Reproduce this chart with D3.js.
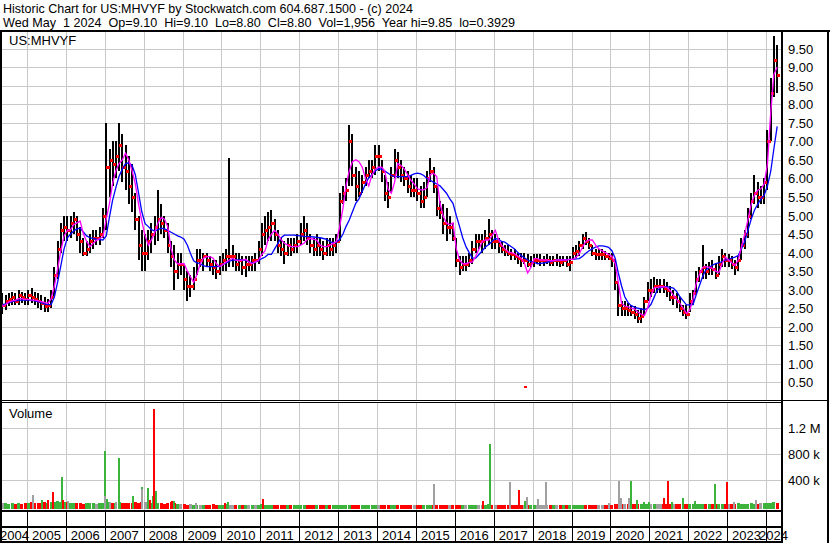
<!DOCTYPE html>
<html><head><meta charset="utf-8">
<script src="https://cdn.jsdelivr.net/npm/d3@7"></script>
<style>
body{margin:0;background:#fff;}
svg text{font-family:"Liberation Sans",Arial,sans-serif;fill:#000;}
</style>
</head><body>
<svg id="c" width="830" height="543"></svg>
<script>
// ---------- DATA (monthly, May 2004 .. Apr 2024) ----------
const startYear = 2004, startMonth = 4; // May 2004 (0-based month)
const lows = [
 2.35,2.45,2.55,2.6,2.6,2.6,2.65,2.6,
 2.6,2.65,2.6,2.5,2.45,2.4,2.4,2.5,2.8,3.3,4.0,4.3,
 4.3,4.4,4.5,4.3,4.0,3.9,3.9,4.0,4.1,4.2,4.2,4.4,
 4.6,5.5,5.8,6.0,6.2,5.9,5.7,5.3,5.1,4.6,3.8,3.5,
 3.5,3.8,4.0,4.2,4.3,4.5,4.4,4.0,3.6,3.0,3.3,3.4,
 3.0,2.7,2.8,3.0,3.4,3.6,3.5,3.6,3.5,3.4,3.3,3.4,
 3.5,3.5,3.6,3.6,3.5,3.5,3.4,3.35,3.5,3.5,3.5,3.7,
 3.9,4.2,4.3,4.3,4.3,4.0,3.9,3.7,3.9,3.9,4.0,4.0,
 4.2,4.3,4.2,4.0,3.9,3.9,3.9,3.8,3.9,3.9,3.9,4.0,
 4.3,5.3,5.4,5.8,5.8,5.4,5.5,5.6,5.8,6.0,6.0,6.1,
 6.2,5.9,5.4,5.2,5.6,6.0,6.0,5.9,5.8,5.6,5.5,5.5,
 5.4,5.2,5.2,5.5,5.9,5.6,5.0,4.9,4.5,4.3,4.5,4.3,
 3.6,3.4,3.5,3.5,3.6,3.7,4.0,4.1,4.0,4.1,4.2,4.1,
 4.1,4.0,4.0,3.9,3.9,3.8,3.8,3.7,3.6,3.7,3.6,3.6,
 3.6,3.7,3.65,3.65,3.7,3.65,3.65,3.65,3.6,3.65,3.6,3.5,
 3.8,3.85,3.9,4.1,4.2,4.1,3.9,3.8,3.8,3.8,3.8,3.8,
 3.6,3.0,2.3,2.3,2.3,2.3,2.3,2.2,2.1,2.1,2.3,2.7,
 2.8,2.9,2.9,2.9,2.9,2.8,2.7,2.6,2.5,2.4,2.3,2.2,
 2.4,2.6,2.9,3.2,3.3,3.3,3.4,3.4,3.3,3.4,3.6,3.6,
 3.6,3.55,3.4,3.5,3.8,4.1,4.4,4.9,5.3,5.2,5.3,5.3,
 5.7,7.0,8.2,8.3
];
const highs = [
 2.9,2.85,2.9,2.95,2.9,3.0,2.95,2.9,
 3.0,3.05,2.95,2.9,2.85,2.8,2.75,3.0,3.6,4.3,4.8,5.0,
 5.0,5.0,5.1,5.0,4.7,4.4,4.3,4.5,4.6,4.6,4.7,5.2,
 7.5,6.8,7.0,7.0,7.5,7.2,6.9,6.6,6.4,5.6,5.0,4.6,
 4.5,4.6,4.8,5.0,5.7,5.3,5.0,4.8,4.3,4.2,4.0,4.0,
 3.7,3.5,3.4,3.6,4.1,4.1,4.0,4.0,3.9,3.8,3.8,3.9,
 4.0,4.1,6.55,4.2,4.0,4.0,3.9,3.9,3.9,3.9,4.0,4.3,
 4.8,5.0,5.1,5.15,4.9,4.6,4.4,4.3,4.4,4.4,4.4,4.5,
 4.8,5.0,4.8,4.5,4.4,4.5,4.4,4.3,4.4,4.4,4.4,4.5,
 5.6,5.8,6.0,7.45,7.2,6.3,6.2,6.1,6.3,6.5,6.5,6.9,
 6.9,6.5,6.1,5.9,6.3,6.8,6.7,6.5,6.3,6.2,6.1,6.0,
 6.0,5.8,5.9,6.2,6.55,6.3,5.8,5.4,5.3,5.2,5.0,4.8,
 4.4,3.9,3.9,3.9,4.0,4.3,4.5,4.5,4.5,4.6,4.9,4.6,
 4.5,4.4,4.3,4.2,4.2,4.1,4.1,4.0,4.0,4.0,3.95,3.9,
 3.95,3.95,3.95,3.9,3.95,3.9,3.9,3.95,3.9,3.9,3.9,3.9,
 4.15,4.2,4.3,4.5,4.55,4.4,4.2,4.1,4.1,4.1,4.05,4.0,
 4.0,3.8,3.2,2.7,2.7,2.65,2.6,2.55,2.45,2.5,2.8,3.2,
 3.3,3.35,3.3,3.3,3.3,3.2,3.1,3.0,2.9,2.8,2.6,2.6,
 2.9,3.0,3.5,3.6,4.2,3.7,3.75,3.8,3.7,3.9,4.1,4.0,
 3.95,3.9,3.8,3.9,4.4,4.6,5.2,5.6,6.1,5.9,5.8,6.0,
 7.3,8.7,9.85,9.6
];
const closes = [
 2.6,2.7,2.75,2.8,2.7,2.85,2.8,2.75,
 2.85,2.8,2.75,2.7,2.65,2.55,2.6,2.8,3.4,4.1,4.6,4.7,
 4.6,4.8,4.9,4.5,4.3,4.0,4.1,4.3,4.4,4.4,4.5,5.0,
 6.3,6.5,6.4,6.6,6.9,6.3,6.2,5.8,5.5,4.9,4.2,4.0,
 4.0,4.3,4.5,4.7,4.9,4.8,4.6,4.2,3.9,3.5,3.7,3.7,
 3.3,3.1,3.1,3.3,3.8,3.8,3.9,3.8,3.7,3.6,3.5,3.7,
 3.8,3.9,3.9,3.9,3.7,3.8,3.6,3.7,3.7,3.8,3.8,4.1,
 4.5,4.6,4.7,4.8,4.5,4.2,4.1,4.0,4.2,4.1,4.2,4.3,
 4.5,4.6,4.4,4.2,4.1,4.2,4.1,4.0,4.2,4.1,4.2,4.3,
 5.4,5.6,5.7,7.0,6.1,5.8,5.6,5.9,6.1,6.2,6.3,6.6,
 6.6,6.2,5.6,5.5,6.1,6.5,6.3,6.1,6.0,5.8,5.7,5.7,
 5.6,5.4,5.5,6.0,6.2,5.8,5.2,5.1,4.8,4.7,4.7,4.4,
 3.8,3.6,3.7,3.7,3.8,4.1,4.3,4.3,4.3,4.4,4.5,4.3,
 4.3,4.2,4.1,4.05,4.0,3.95,3.9,3.85,3.8,3.8,3.7,3.75,
 3.8,3.8,3.8,3.8,3.8,3.75,3.8,3.8,3.75,3.8,3.7,3.75,
 4.0,4.05,4.2,4.4,4.3,4.2,4.0,3.95,3.95,3.95,3.9,3.85,
 3.8,3.2,2.6,2.5,2.5,2.45,2.4,2.35,2.25,2.3,2.7,3.0,
 3.0,3.1,3.1,3.1,3.05,3.0,2.8,2.8,2.7,2.5,2.4,2.35,
 2.7,2.9,3.3,3.5,3.6,3.5,3.6,3.55,3.4,3.7,3.9,3.8,
 3.8,3.7,3.6,3.8,4.2,4.5,5.0,5.4,5.6,5.5,5.5,5.9,
 7.0,8.3,9.2,8.8
];
const maShort = [
 2.55,2.6,2.67,2.7,2.72,2.76,2.76,2.74,
 2.74,2.72,2.72,2.7,2.68,2.66,2.63,2.75,3.1,3.55,4.05,4.45,
 4.6,4.62,4.75,4.8,4.85,4.5,4.3,4.16,4.25,4.33,4.38,4.43,
 4.9,5.33,5.85,6.2,6.4,6.5,6.68,6.5,6.2,5.85,5.3,4.85,
 4.45,4.2,4.35,4.55,4.8,4.95,4.9,4.7,4.1,3.8,3.7,3.7,
 3.7,3.5,3.35,3.2,3.4,3.7,3.85,3.89,3.89,3.85,3.7,3.62,
 3.68,3.75,3.8,3.85,3.8,3.78,3.8,3.82,3.75,3.7,3.75,3.8,
 3.95,4.05,4.35,4.5,4.6,4.5,4.35,4.25,4.2,4.16,4.16,4.16,
 4.2,4.25,4.35,4.38,4.36,4.33,4.2,4.16,4.16,4.2,4.25,4.3,
 4.7,5.2,5.8,6.2,6.45,6.5,6.45,6.3,6.0,5.8,6.1,6.25,
 6.3,6.3,6.2,5.7,5.6,5.9,6.4,6.35,6.25,6.1,5.95,5.85,
 5.72,5.69,5.69,5.75,6.1,6.14,6.05,5.33,4.97,4.8,4.75,4.8,
 4.1,3.8,3.7,3.7,3.73,3.75,3.9,4.1,4.3,4.34,4.34,4.45,
 4.6,4.35,4.2,4.1,4.02,4.0,3.97,3.9,3.85,3.72,3.45,3.6,
 3.84,3.84,3.8,3.8,3.8,3.78,3.78,3.8,3.8,3.8,3.8,3.82,
 3.82,3.88,3.97,4.15,4.3,4.34,4.34,4.2,4.1,4.05,4.0,3.95,
 3.9,3.7,3.2,2.63,2.56,2.54,2.5,2.48,2.4,2.34,2.3,2.5,
 2.85,3.05,3.06,3.08,3.08,3.06,2.98,2.85,2.74,2.63,2.5,2.36,
 2.45,2.75,3.15,3.4,3.6,3.62,3.6,3.58,3.5,3.46,3.7,3.88,
 3.8,3.72,3.65,3.8,4.15,4.5,4.88,5.3,5.55,5.68,5.72,5.85,
 6.4,7.8,8.8,9.0
];
const maLong = [
 2.6,2.62,2.65,2.68,2.7,2.72,2.72,2.72,
 2.72,2.72,2.7,2.68,2.65,2.62,2.6,2.6,2.8,3.2,3.65,4.1,
 4.4,4.5,4.58,4.64,4.66,4.55,4.45,4.4,4.38,4.36,4.35,4.34,
 4.45,4.97,5.4,5.75,6.05,6.25,6.4,6.42,6.35,6.1,5.6,5.1,
 4.78,4.7,4.62,4.58,4.62,4.66,4.64,4.6,4.55,4.5,4.45,4.42,
 4.36,4.2,3.98,3.78,3.72,3.7,3.65,3.62,3.62,3.62,3.62,3.63,
 3.68,3.72,3.76,3.8,3.8,3.8,3.8,3.8,3.75,3.72,3.74,3.78,
 3.84,3.88,3.95,3.95,4.1,4.25,4.4,4.47,4.47,4.47,4.47,4.46,
 4.45,4.44,4.43,4.43,4.42,4.41,4.4,4.38,4.36,4.3,4.26,4.28,
 4.35,4.5,4.7,4.88,5.1,5.33,5.45,5.65,5.85,6.02,6.1,6.2,
 6.26,6.25,6.2,6.14,6.08,6.05,6.05,6.05,6.05,6.05,6.08,6.12,
 6.14,6.12,6.08,6.0,5.95,5.9,5.85,5.8,5.7,5.6,5.45,5.33,
 5.0,4.7,4.4,4.16,4.0,3.85,3.85,3.95,4.05,4.15,4.22,4.3,
 4.38,4.36,4.3,4.28,4.22,4.16,4.1,4.0,3.92,3.86,3.8,3.76,
 3.74,3.7,3.71,3.72,3.74,3.76,3.78,3.8,3.8,3.8,3.81,3.82,
 3.82,3.83,3.84,3.9,3.98,4.05,4.1,4.15,4.18,4.18,4.17,4.14,
 4.05,3.85,3.45,3.1,2.81,2.65,2.57,2.53,2.5,2.48,2.46,2.5,
 2.6,2.8,2.99,3.05,3.08,3.08,3.06,3.04,2.95,2.81,2.7,2.59,
 2.59,2.6,2.85,3.1,3.35,3.53,3.6,3.66,3.7,3.72,3.76,3.8,
 3.82,3.85,3.88,3.92,4.1,4.3,4.6,4.9,5.15,5.3,5.45,5.55,
 5.8,6.2,6.8,7.4
];
// isolated bad prints (single days)
const outlierDates = ["2017-10-12"];
const outlierPrices = [0.39];
// typical (base) volume per month, thousands of shares
const baseVolK = [
 40,50,35,45,30,40,35,50,
 45,60,40,50,45,55,40,60,55,70,60,65,
 55,50,45,40,45,35,40,45,40,35,50,45,
 60,55,45,50,60,45,40,50,45,55,50,60,
 55,60,50,70,45,40,35,45,60,50,30,25,
 25,20,25,20,18,20,15,18,20,25,20,18,
 20,25,18,20,15,18,15,18,20,15,18,20,
 25,20,18,15,18,15,12,15,18,15,12,15,
 15,12,15,18,12,15,12,15,12,15,18,12,
 15,18,20,18,15,12,15,18,15,12,15,18,
 18,15,20,18,15,12,18,15,20,18,15,12,
 15,18,15,12,15,18,15,12,15,18,15,18,
 20,18,15,18,20,18,15,20,18,15,25,20,
 20,18,15,18,20,15,18,20,18,15,18,20,
 18,15,18,15,12,15,18,15,12,15,18,15,
 12,15,12,15,18,15,12,15,18,12,15,20,
 20,25,35,30,25,30,35,25,30,35,30,25,
 30,35,25,30,35,30,25,30,25,30,35,30,
 25,30,35,30,25,30,35,25,30,35,30,25,
 30,35,30,40,35,30,35,40,35,30,40,45,
 50,45,55,50
];
// single heavy-volume days
const spikeDates = ["2005-02-25","2005-05-22","2005-07-16","2005-09-02","2005-11-25","2005-12-06","2006-01-19",
 "2007-01-02","2007-01-02","2007-01-24","2007-02-18","2007-04-15","2007-05-14","2007-09-22","2007-12-15","2007-12-15",
 "2008-02-10","2008-03-01","2008-03-28","2008-04-07","2008-04-26","2008-09-24","2008-10-12","2009-05-07",
 "2010-02-03","2010-03-03","2011-01-25","2015-06-18","2016-09-20","2016-11-24","2017-06-01","2017-08-25",
 "2017-10-20","2017-11-08","2018-02-20","2018-05-05","2019-12-17","2020-03-20","2020-04-08","2020-06-23",
 "2020-07-12","2020-09-06","2020-11-10","2020-12-27","2021-05-17","2021-06-24","2021-07-31","2021-11-12",
 "2022-03-04","2022-09-08","2022-12-30","2023-03-05","2023-09-27","2024-03-07"];
const spikeVolK = [170,90,90,215,445,100,80,
 845,150,110,60,60,740,150,285,260,
 275,90,160,1500,230,80,70,50,
 50,60,110,340,70,950,370,245,
 80,140,110,370,40,385,120,120,
 385,90,60,60,120,385,60,120,
 80,340,370,60,90,60];
const spikeKind = ["n","g","r","r","g","r","n",
 "g","n","g","n","n","g","g","g","n",
 "g","r","g","r","g","r","g","n",
 "r","g","r","n","r","g","n","r",
 "g","n","n","n","n","n","n","n",
 "g","g","g","g","r","r","g","g",
 "g","g","r","n","n","g"];
const yearLabels = ["2004","2005","2006","2007","2008","2009","2010","2011","2012","2013","2014",
 "2015","2016","2017","2018","2019","2020","2021","2022","2023","2024"];
const priceTicks = [0.5,1,1.5,2,2.5,3,3.5,4,4.5,5,5.5,6,6.5,7,7.5,8,8.5,9,9.5];
const volTicks = [400000,800000,1200000];
const volTickLabels = ["400 k","800 k","1.2 M"];
const title1 = "Historic Chart for US:MHVYF by Stockwatch.com 604.687.1500 - (c) 2024";
const title2 = "Wed May  1 2024  Op=9.10  Hi=9.10  Lo=8.80  Cl=8.80  Vol=1,956  Year hi=9.85  lo=0.3929";

// ---------- BUILD ----------
const months = closes.map((c,i)=>new Date(startYear, startMonth+i, 15));
const bars = months.map((d,i)=>({d, lo:lows[i], hi:highs[i], cl:closes[i], op: i? closes[i-1]: closes[i]}));
const parse = d3.timeParse("%Y-%m-%d");

const svg = d3.select("#c");
const plotL = 2, plotR = 781;
const pTop = 32, pBot = 400, vTop = 403, vBot = 510;
const x = d3.scaleTime().domain([new Date(2005,0,1), new Date(2024,0,1)]).range([27,766]);
const yP = d3.scaleLinear().domain([0,10]).range([401,30]);
const yV = d3.scaleLinear().domain([0,1600000]).range([506,402]);
const gridCol = "#c8c8c8";

svg.append("rect").attr("width",830).attr("height",543).attr("fill","#fff");

const defs = svg.append("defs");
defs.append("clipPath").attr("id","cp").append("rect").attr("x",plotL).attr("y",pTop).attr("width",plotR-plotL).attr("height",pBot-pTop);
defs.append("clipPath").attr("id","cv").append("rect").attr("x",plotL).attr("y",vTop+1).attr("width",plotR-plotL).attr("height",vBot-vTop-1);

// grid
const yearDates = d3.range(2005,2025).map(y=>new Date(y,0,1));
const grid = svg.append("g").attr("stroke",gridCol).attr("stroke-width",1).attr("shape-rendering","crispEdges");
grid.selectAll(".ph").data(priceTicks).join("line")
  .attr("x1",plotL).attr("x2",plotR).attr("y1",d=>Math.round(yP(d))+0.5).attr("y2",d=>Math.round(yP(d))+0.5);
grid.selectAll(".pv").data(yearDates).join("line")
  .attr("x1",d=>Math.round(x(d))+0.5).attr("x2",d=>Math.round(x(d))+0.5).attr("y1",pTop).attr("y2",pBot);
grid.selectAll(".vh").data(volTicks).join("line")
  .attr("x1",plotL).attr("x2",plotR).attr("y1",d=>Math.round(yV(d))+0.5).attr("y2",d=>Math.round(yV(d))+0.5);
grid.selectAll(".vv").data(yearDates).join("line")
  .attr("x1",d=>Math.round(x(d))+0.5).attr("x2",d=>Math.round(x(d))+0.5).attr("y1",vTop).attr("y2",vBot);

// price bars: black high-low line, red open/close ticks
const pg = svg.append("g").attr("clip-path","url(#cp)");
const bg = pg.append("g").attr("shape-rendering","crispEdges");
bg.selectAll(".hl").data(bars).join("rect")
  .attr("x",d=>Math.round(x(d.d))-1).attr("width",2)
  .attr("y",d=>yP(d.hi)).attr("height",d=>Math.max(1,yP(d.lo)-yP(d.hi)))
  .attr("fill","#000");
bg.selectAll(".op").data(bars).join("rect")
  .attr("x",d=>Math.round(x(d.d))-2).attr("width",2).attr("y",d=>Math.round(yP(d.op))-1).attr("height",3).attr("fill","#ff0000");
bg.selectAll(".cl").data(bars).join("rect")
  .attr("x",d=>Math.round(x(d.d))).attr("width",3).attr("y",d=>Math.round(yP(d.cl))-1).attr("height",3).attr("fill","#ff0000");
bg.selectAll(".ol").data(outlierDates.map((s,i)=>({d:parse(s), p:outlierPrices[i]}))).join("rect")
  .attr("x",d=>Math.round(x(d.d))).attr("width",3).attr("y",d=>Math.round(yP(d.p))-1).attr("height",2).attr("fill","#ff0000");

const line = arr => d3.line().x((d,i)=>x(months[i])).y(d=>yP(d))(arr);
pg.append("path").attr("d",line(maLong)).attr("fill","none").attr("stroke","#0000ff").attr("stroke-width",1.3);
pg.append("path").attr("d",line(maShort)).attr("fill","none").attr("stroke","#ff00ff").attr("stroke-width",1.3);

// volume
const colOf = k => k==="g" ? "#3cb43c" : (k==="r" ? "#ff0000" : "#a0a0a0");
const vg = svg.append("g").attr("clip-path","url(#cv)").attr("shape-rendering","crispEdges");
vg.selectAll(".bv").data(bars).join("rect")
  .attr("x",d=>x(d.d)-1.5).attr("width",3)
  .attr("y",(d,i)=>yV(baseVolK[i]*1000)).attr("height",(d,i)=>509-yV(baseVolK[i]*1000))
  .attr("fill",(d,i)=> d.cl>d.op ? "#3cb43c" : (d.cl<d.op ? "#ff0000" : "#a0a0a0"));
const spikes = spikeDates.map((s,i)=>({d:parse(s), v:spikeVolK[i]*1000, k:spikeKind[i]}));
vg.selectAll(".sv").data(spikes).join("rect")
  .attr("x",d=>Math.round(x(d.d))-1).attr("width",2)
  .attr("y",d=>yV(d.v)).attr("height",d=>509-yV(d.v))
  .attr("fill",d=>colOf(d.k));

// frame
const blk = (x0,y0,w,h)=>svg.append("rect").attr("x",x0).attr("y",y0).attr("width",w).attr("height",h).attr("fill","#000");
blk(0,30,830,2);
blk(0,30,2,513);
blk(781,30,2,513);
blk(827,30,2,513);
blk(0,400,781,1);
blk(0,402,781,1);
blk(783,400,44,1);
blk(0,510,781,2);
blk(0,526,781,2);
blk(0,541,781,2);
svg.append("g").selectAll("line").data(yearDates).join("line")
  .attr("x1",d=>Math.round(x(d))+0.5).attr("x2",d=>Math.round(x(d))+0.5)
  .attr("y1",512).attr("y2",541).attr("stroke","#000").attr("shape-rendering","crispEdges");

// texts
svg.append("text").attr("x",3).attr("y",13).attr("font-size",13)
  .attr("textLength",410).attr("lengthAdjust","spacingAndGlyphs").text(title1);
svg.append("text").attr("x",3).attr("y",27).attr("font-size",13).style("white-space","pre")
  .attr("textLength",512).attr("lengthAdjust","spacingAndGlyphs").text(title2);
svg.append("text").attr("x",9).attr("y",45).attr("font-size",13).text("US:MHVYF");
svg.append("text").attr("x",9).attr("y",418).attr("font-size",13).text("Volume");

svg.append("g").selectAll("text").data(priceTicks).join("text")
  .attr("x",788).attr("y",d=>yP(d)+5).attr("font-size",13).text(d=>d3.format(".2f")(d));
svg.append("g").selectAll("text").data(volTicks).join("text")
  .attr("x",788).attr("y",d=>yV(d)+5).attr("font-size",13).text((d,i)=>volTickLabels[i]);

// year labels centered in visible interval
const yl = yearLabels.map(s=>{
  const y = +s;
  const a = Math.max(plotL, x(new Date(y,0,1)));
  const b = Math.min(plotR, x(new Date(y+1,0,1)));
  return {s, cx:(a+b)/2};
});
svg.append("g").selectAll("text").data(yl).join("text")
  .attr("x",d=>d.cx).attr("y",540).attr("text-anchor","middle").attr("font-size",13).text(d=>d.s);
</script>
</body></html>
